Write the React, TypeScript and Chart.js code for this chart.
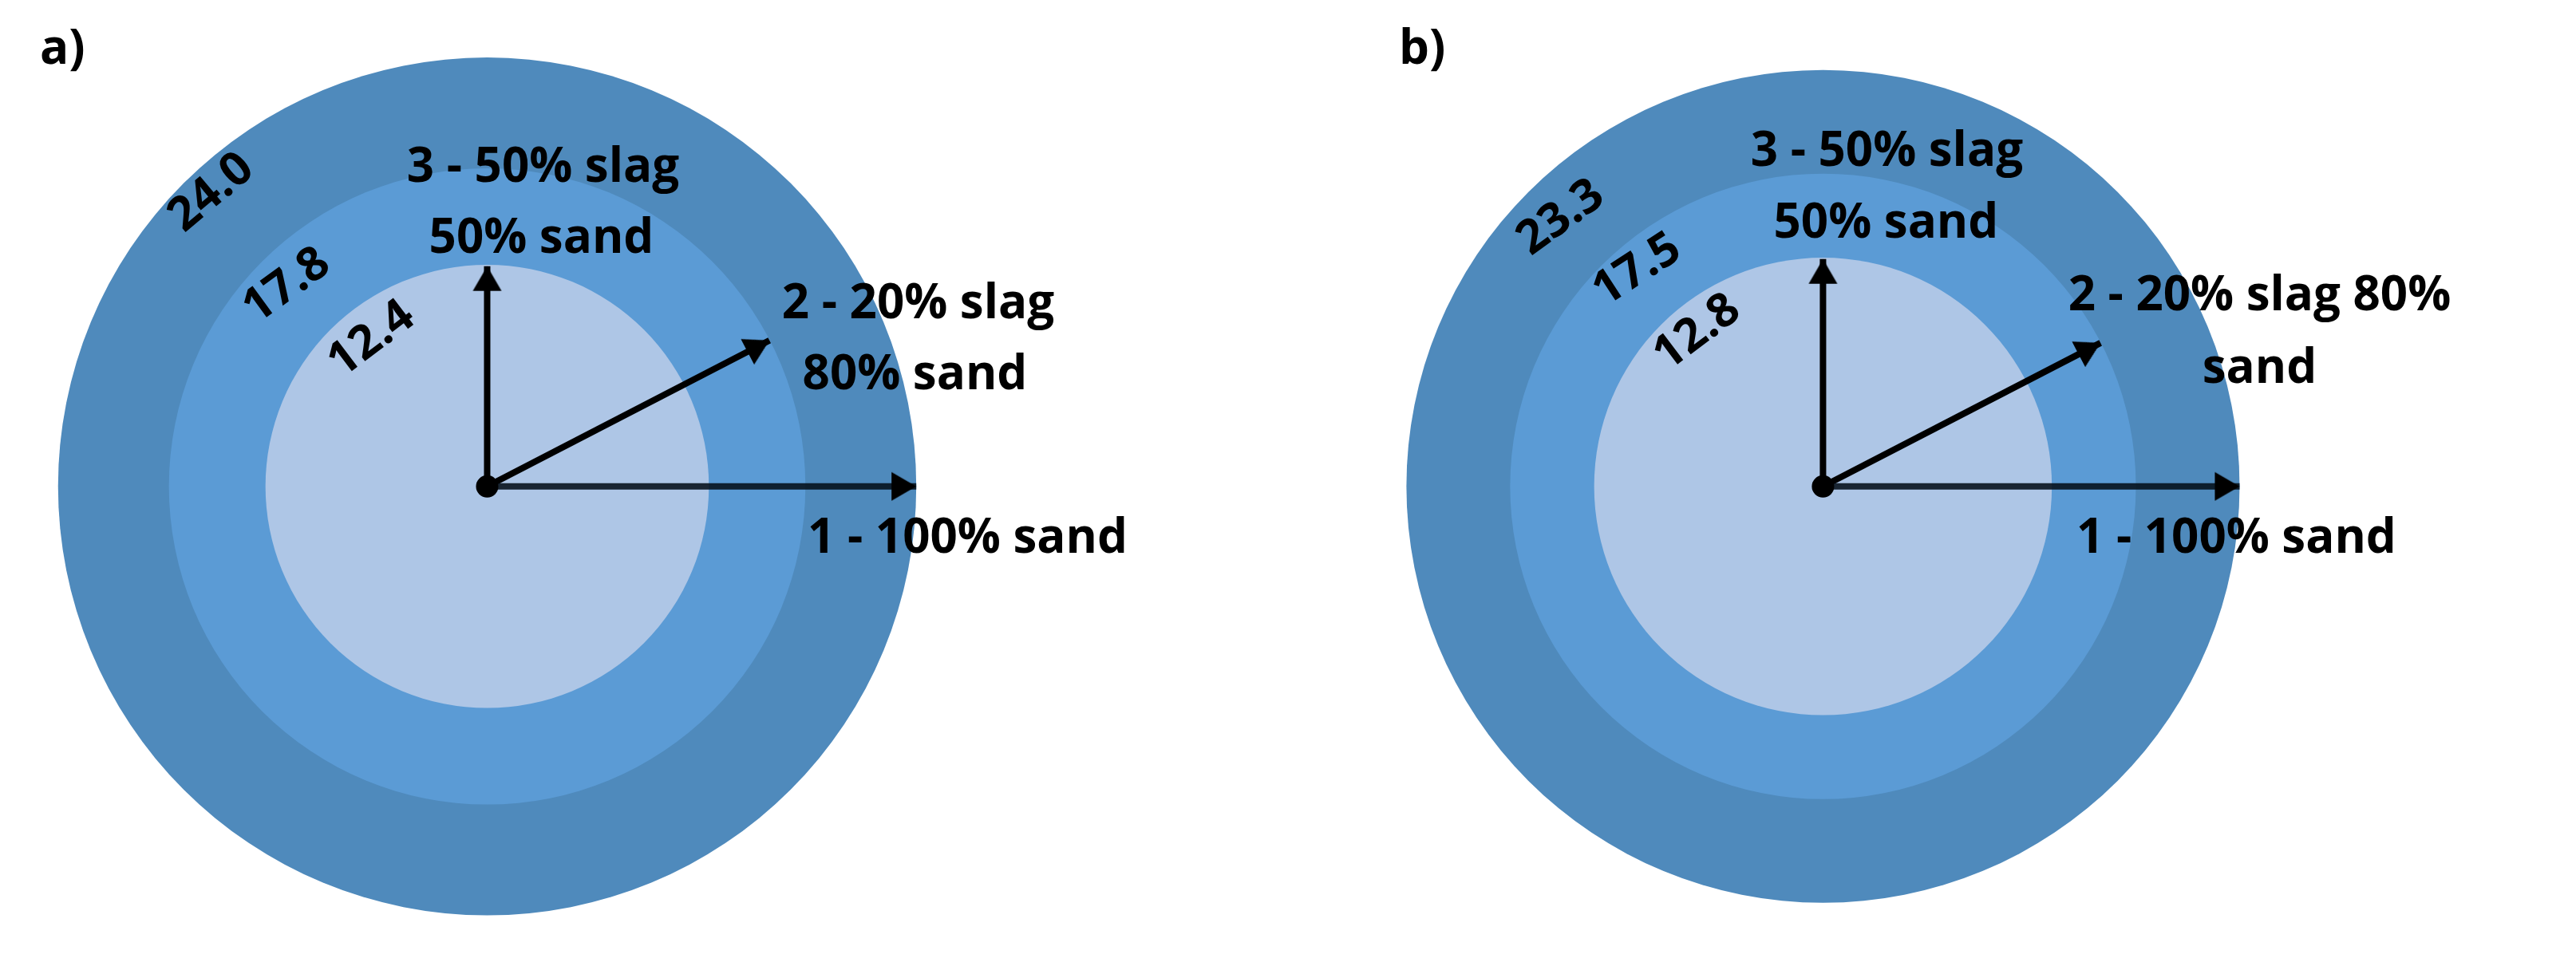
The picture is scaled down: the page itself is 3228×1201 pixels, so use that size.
import React, { useEffect, useRef } from "react";
import { Chart, registerables } from "chart.js";

Chart.register(...registerables);

// ---------------- data ----------------
const CATEGORIES = ["1 - 100% sand", "2 - 20% slag 80% sand", "3 - 50% slag 50% sand"];
const PANEL_A_VALUES = [24.0, 17.8, 12.4];
const PANEL_B_VALUES = [23.3, 17.5, 12.8];
const PANEL_TITLES = ["a)", "b)"];
const PANEL_A_LABEL_LINES = [["1 - 100% sand"], ["2 - 20% slag", "80% sand"], ["3 - 50% slag", "50% sand"]];
const PANEL_B_LABEL_LINES = [["1 - 100% sand"], ["2 - 20% slag 80%", "sand"], ["3 - 50% slag", "50% sand"]];
const ARROW_ANGLES = [0, 27.5, 90]; // direction of each mix's arrow, degrees

// ---------------- layout / style ----------------
const W = 3228;
const H = 1201;
const PX_PER_UNIT = 22.8;
const RING_COLORS = ["#4F8ABC", "#5B9BD5", "#AEC6E6"];
const FONT = '"Open Sans", "DejaVu Sans", sans-serif';
const LABEL_FONT_PX = 60;
const VALUE_FONT_PX = 59;
const TITLE_FONT_PX = 60;

type ValueLabelLayout = { angle: number; inset: number; rot: number };
type PanelSpec = {
  title: string;
  values: number[];
  labelLines: string[][];
  left: number;
  width: number;
  cx: number;
  cy: number;
  titleX: number;
  titleY: number;
  labelPos: [number, number][][];
  valueLabels: ValueLabelLayout[];
};

const PANELS: PanelSpec[] = [
  {
    title: PANEL_TITLES[0],
    values: PANEL_A_VALUES,
    labelLines: PANEL_A_LABEL_LINES,
    left: 0,
    width: 1614,
    cx: 607,
    cy: 610,
    titleX: 50,
    titleY: 80,
    labelPos: [
      [[602, 83]],
      [[540, -211], [536, -122]],
      [[70, -382], [68, -293]],
    ],
    valueLabels: [
      { angle: 133, inset: 1.4, rot: -40 },
      { angle: 134.8, inset: 1.9, rot: -36 },
      { angle: 128, inset: 1.9, rot: -37 },
    ],
  },
  {
    title: PANEL_TITLES[1],
    values: PANEL_B_VALUES,
    labelLines: PANEL_B_LABEL_LINES,
    left: 1614,
    width: 1614,
    cx: 668,
    cy: 610,
    titleX: 139,
    titleY: 80,
    labelPos: [
      [[518, 83]],
      [[547, -221], [547, -130]],
      [[80, -402], [79, -312]],
    ],
    valueLabels: [
      { angle: 134.1, inset: 2.25, rot: -36 },
      { angle: 130.5, inset: 1.5, rot: -33 },
      { angle: 129.1, inset: 1.65, rot: -37 },
    ],
  },
];

function makeArrowHead(): HTMLCanvasElement {
  const c = document.createElement("canvas");
  c.width = 72;
  c.height = 72;
  const g = c.getContext("2d")!;
  g.fillStyle = "#000";
  g.beginPath();
  g.moveTo(36, 36);
  g.lineTo(54, 67);
  g.lineTo(18, 67);
  g.closePath();
  g.fill();
  return c;
}

function Panel({ spec }: { spec: PanelSpec }) {
  const ref = useRef<HTMLCanvasElement>(null);

  useEffect(() => {
    const canvas = ref.current;
    if (!canvas) return;
    const arrowHead = makeArrowHead();

    const xMin = -spec.cx / PX_PER_UNIT;
    const xMax = (spec.width - spec.cx) / PX_PER_UNIT;
    const yMax = spec.cy / PX_PER_UNIT;
    const yMin = -(H - spec.cy) / PX_PER_UNIT;

    const radiusPx = (chart: any, v: number) =>
      Math.abs(chart.scales.x.getPixelForValue(v) - chart.scales.x.getPixelForValue(0));

    const rings = spec.values.map((v, i) => ({
      label: CATEGORIES[i],
      data: [{ x: 0, y: 0 }],
      pointRadius: (ctx: any) => radiusPx(ctx.chart, v),
      pointHoverRadius: (ctx: any) => radiusPx(ctx.chart, v),
      pointBackgroundColor: RING_COLORS[i],
      pointHoverBackgroundColor: RING_COLORS[i],
      pointBorderWidth: 0,
      pointHoverBorderWidth: 0,
      pointBorderColor: "rgba(0,0,0,0)",
      order: 4 - i,
    }));

    const arrows = spec.values.map((v, i) => {
      const a = (ARROW_ANGLES[i] * Math.PI) / 180;
      return {
        label: CATEGORIES[i] + " arrow",
        showLine: true,
        data: [
          { x: 0, y: 0 },
          { x: v * Math.cos(a), y: v * Math.sin(a) },
        ],
        borderColor: i === 0 ? "rgba(5,15,25,0.88)" : "#000",
        borderWidth: 8,
        borderCapStyle: "butt",
        pointRadius: [0, 1],
        pointHoverRadius: [0, 1],
        pointStyle: ["circle", arrowHead],
        pointRotation: [0, 90 - ARROW_ANGLES[i]],
        pointBackgroundColor: "#000",
        pointBorderWidth: 0,
        order: 1,
      };
    });

    const dot = {
      label: "origin",
      data: [{ x: 0, y: 0 }],
      pointRadius: 14,
      pointHoverRadius: 14,
      pointBackgroundColor: "#000",
      pointBorderWidth: 0,
      order: 0,
    };

    const textPlugin = {
      id: "panelText",
      afterDatasetsDraw(chart: any) {
        const g: CanvasRenderingContext2D = chart.ctx;
        const xs = chart.scales.x;
        const ys = chart.scales.y;
        const cxp = xs.getPixelForValue(0);
        const cyp = ys.getPixelForValue(0);
        g.save();
        g.fillStyle = "#000";

        // ring value labels, rotated along the rings
        g.font = `700 ${VALUE_FONT_PX}px ${FONT}`;
        g.textAlign = "center";
        g.textBaseline = "middle";
        spec.values.forEach((v, i) => {
          const L = spec.valueLabels[i];
          const a = (L.angle * Math.PI) / 180;
          const r = v - L.inset;
          const x = xs.getPixelForValue(r * Math.cos(a));
          const y = ys.getPixelForValue(r * Math.sin(a));
          g.save();
          g.translate(x, y);
          g.rotate((L.rot * Math.PI) / 180);
          g.fillText(v.toFixed(1), 0, 0);
          g.restore();
        });

        // mix labels
        g.font = `700 ${LABEL_FONT_PX}px ${FONT}`;
        g.textAlign = "center";
        g.textBaseline = "alphabetic";
        spec.labelLines.forEach((lines, i) =>
          lines.forEach((t, j) => {
            const [dx, dy] = spec.labelPos[i][j];
            g.fillText(t, cxp + dx, cyp + dy);
          })
        );

        // panel title
        g.font = `700 ${TITLE_FONT_PX}px ${FONT}`;
        g.textAlign = "left";
        g.fillText(spec.title, spec.titleX, spec.titleY);
        g.restore();
      },
    };

    const chart = new Chart(canvas, {
      type: "scatter",
      data: { datasets: [...rings, ...arrows, dot] as any },
      options: {
        animation: false,
        responsive: false,
        maintainAspectRatio: false,
        events: [],
        layout: { padding: 0 },
        plugins: {
          legend: { display: false },
          tooltip: { enabled: false },
          title: { display: false },
        },
        scales: {
          x: { type: "linear", display: false, min: xMin, max: xMax },
          y: { type: "linear", display: false, min: yMin, max: yMax },
        },
      } as any,
      plugins: [textPlugin],
    });

    return () => chart.destroy();
  }, [spec]);

  return (
    <canvas
      ref={ref}
      width={spec.width}
      height={H}
      style={{ position: "absolute", left: spec.left, top: 0, width: spec.width, height: H, display: "block" }}
    />
  );
}

export default function App() {
  return (
    <div style={{ position: "absolute", left: 0, top: 0, width: W, height: H, background: "#fff", overflow: "hidden" }}>
      {PANELS.map((p) => (
        <Panel key={p.title} spec={p} />
      ))}
    </div>
  );
}
